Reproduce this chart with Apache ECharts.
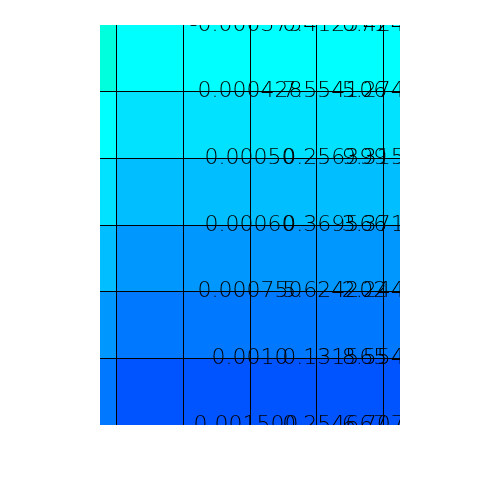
<!DOCTYPE html>
<html>
<head>
<meta charset="utf-8">
<script src="https://cdn.jsdelivr.net/npm/echarts@6/dist/echarts.min.js"></script>
<style>
  html, body { margin: 0; padding: 0; background: #fff; }
  #chart { width: 500px; height: 500px; }
</style>
</head>
<body>
<div id="chart"></div>
<script>
// cell levels, row by row (top to bottom), 6 columns each
const cellRows = [
  [-1, 0, 0, 0, 0, 0],
  [0, 1, 1, 1, 1, 1],
  [1, 2, 2, 2, 2, 2],
  [2, 3, 3, 3, 3, 3],
  [3, 4, 4, 4, 4, 4],
  [4, 5, 5, 5, 5, 5]
]
// texts drawn on each horizontal boundary, three per row
const colA = ['-0.000375', '-0.000428', '-0.00050', '-0.00060', '-0.000750', '-0.0010', '0.001500']
const colB = ['0.412571', '7.554106', '0.256399', '0.369566', '5.624202', '0.131565', '0.254667']
const colC = ['0.424222', '5.274444', '9.315900', '3.371100', '2.244690', '8.554500', '6.707100']

// horizontal nudge (px) of each text column from its grid line
const textShift = [-4, 18, 11]

const cells = []
cellRows.forEach((row, r) => row.forEach((v, c) => cells.push([c, r, v])))

const texts = []
const labelData = []
;[colA, colB, colC].forEach((col, k) => {
  col.forEach((t, r) => {
    labelData.push([k + 2.5, r - 0.5, texts.length, k])
    texts.push(t)
  })
})

const chart = echarts.init(document.getElementById('chart'))
const option = {
  animation: false,
  grid: { left: 100, right: 100, top: 25, bottom: 75 },
  xAxis: {
    type: 'value', min: 0.25, max: 4.75,
    axisLine: { show: false }, axisTick: { show: false },
    axisLabel: { show: false }, splitLine: { show: false }
  },
  yAxis: {
    type: 'value', min: -0.5, max: 5.5, inverse: true,
    axisLine: { show: false }, axisTick: { show: false },
    axisLabel: { show: false }, splitLine: { show: false }
  },
  visualMap: {
    show: false, seriesIndex: 0, dimension: 2, min: -1, max: 5,
    inRange: { color: ['#00FFDD', '#00FFFF', '#00E2FF', '#00BEFF', '#0098FF', '#0078FF', '#0054FF'] }
  },
  series: [
    {
      type: 'custom',
      clip: true,
      data: cells,
      encode: { x: 0, y: 1 },
      renderItem(params, api) {
        const x = api.value(0)
        const y = api.value(1)
        const p0 = api.coord([x - 0.5, y - 0.5])
        const p1 = api.coord([x + 0.5, y + 0.5])
        return {
          type: 'rect',
          shape: {
            x: Math.min(p0[0], p1[0]),
            y: Math.min(p0[1], p1[1]),
            width: Math.abs(p1[0] - p0[0]),
            height: Math.abs(p1[1] - p0[1])
          },
          style: { fill: api.visual('color') }
        }
      }
    },
    {
      type: 'scatter',
      symbolSize: 0,
      silent: true,
      data: [[0.5, 0.5]],
      z: 3,
      markLine: {
        silent: true,
        symbol: 'none',
        label: { show: false },
        lineStyle: { color: '#000', width: 1, type: 'solid' },
        data: [
          { xAxis: 0.5 }, { xAxis: 1.5 }, { xAxis: 2.5 }, { xAxis: 3.5 }, { xAxis: 4.5 },
          { yAxis: 0.5 }, { yAxis: 1.5 }, { yAxis: 2.5 }, { yAxis: 3.5 }, { yAxis: 4.5 }
        ]
      }
    },
    {
      type: 'custom',
      clip: true,
      z: 4,
      data: labelData,
      encode: { x: 0, y: 1 },
      renderItem(params, api) {
        const p = api.coord([api.value(0), api.value(1)])
        return {
          type: 'text',
          x: p[0] + textShift[api.value(3)],
          y: p[1],
          style: {
            text: texts[api.value(2)],
            fill: '#000',
            fontSize: 22,
            fontFamily: 'DejaVu Sans',
            fontWeight: 200,
            align: 'center',
            verticalAlign: 'middle'
          }
        }
      }
    }
  ]
}
option && chart.setOption(option)
</script>
</body>
</html>
